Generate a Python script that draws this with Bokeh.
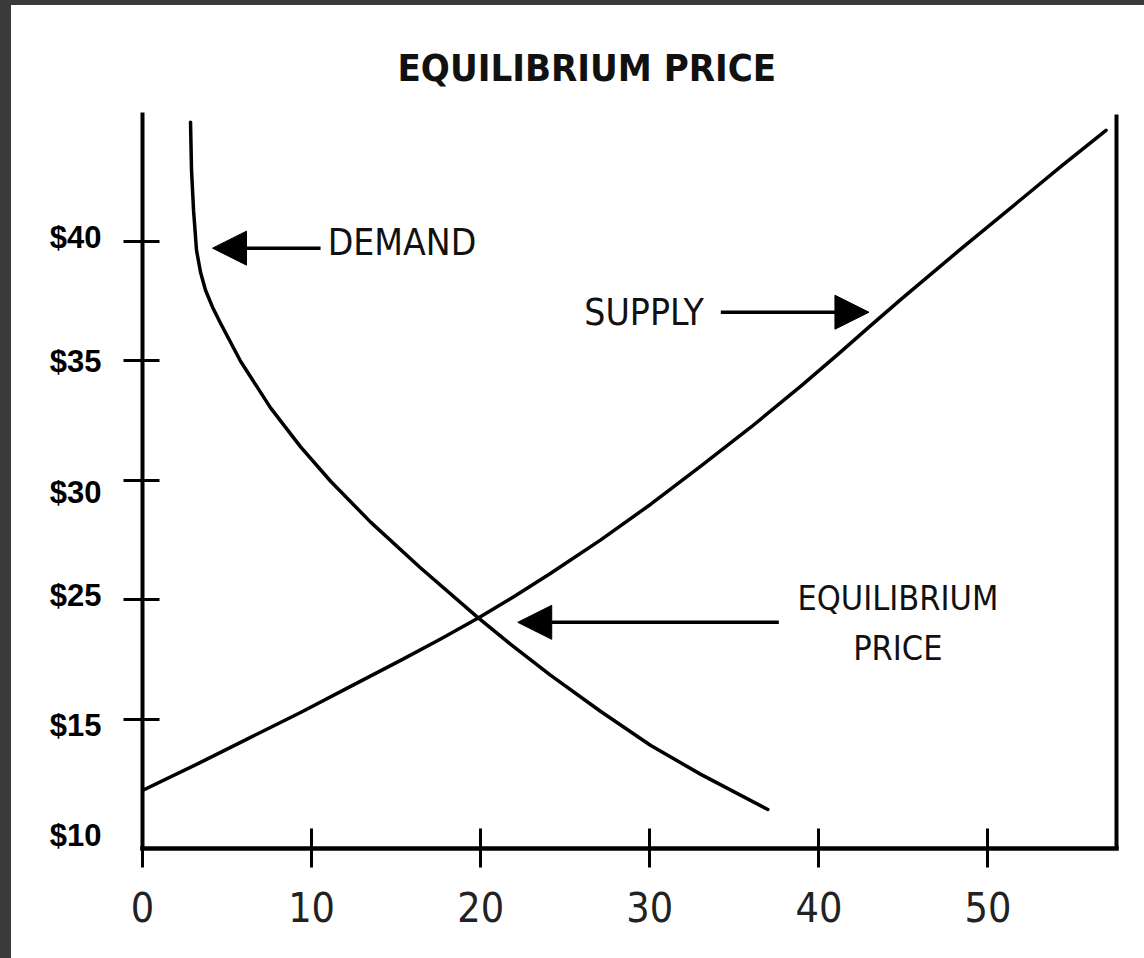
from bokeh.plotting import figure
from bokeh.models import Range1d, LinearAxis, FixedTicker, Arrow, NormalHead, ColumnDataSource, Spacer
from bokeh.layouts import row, column
from bokeh.core.properties import value
from bokeh.embed import file_html
from bokeh.resources import INLINE

# ---------------- data ----------------
quantity_ticks = [0, 10, 20, 30, 40, 50]
price_tick_values = [20, 25, 30, 35, 40]
price_label_values = [15.15, 19.75, 25.2, 29.5, 34.95, 40.15]
price_labels = ["$10", "$15", "$25", "$30", "$35", "$40"]

demand_q = [2.840, 2.899, 3.018, 3.195, 3.432, 3.728, 4.142, 4.615, 5.799, 7.574, 9.349,
            11.124, 13.491, 16.450, 19.822, 21.775, 24.142, 27.101, 30.059, 33.018, 36.982]
demand_p = [44.98, 42.97, 41.30, 39.62, 38.70, 37.95, 37.24, 36.57, 34.98, 33.03, 31.40,
            29.96, 28.25, 26.33, 24.27, 23.14, 21.84, 20.33, 18.91, 17.70, 16.23]

supply_q = [0.0, 3.432, 6.391, 9.349, 12.308, 15.266, 17.633, 19.882, 22.071, 24.142, 27.101,
            30.059, 33.018, 35.976, 38.935, 41.124, 43.077, 44.852, 48.402, 52.130, 54.320, 56.982]
supply_p = [17.03, 18.20, 19.25, 20.29, 21.38, 22.47, 23.36, 24.25, 25.18, 26.11, 27.51,
            29.00, 30.59, 32.22, 33.94, 35.27, 36.48, 37.57, 39.68, 41.85, 43.13, 44.64]

label_text = ["DEMAND", "SUPPLY", "EQUILIBRIUM", "PRICE"]
label_x = [10.95, 33.2, 44.67, 44.67]
label_y = [39.96, 37.03, 25.06, 22.97]
label_align = ["left", "right", "center", "center"]
label_size = ["37px", "37px", "34px", "34px"]

arrow_x0 = [10.53, 34.2, 37.63]
arrow_x1 = [4.14, 42.96, 22.19]
arrow_y = [39.71, 37.03, 24.06]

NARROW = "DejaVu Sans Condensed, Roboto Condensed, Liberation Sans"
INK = "#111111"
DARK = {"background-color": "#3a3a3a"}

p = figure(width=1133, height=953, output_backend="svg", toolbar_location=None,
           x_range=Range1d(0, 57.6), y_range=Range1d(14.6, 45.3),
           min_border_left=131, min_border_right=28, min_border_top=109, min_border_bottom=110,
           background_fill_color="white", border_fill_color="white")
p.outline_line_color = None
p.xgrid.visible = False
p.ygrid.visible = False

p.title.text = "EQUILIBRIUM PRICE"
p.title.align = "left"
p.title.offset = 255
p.title.standoff = 50
p.title.text_font = NARROW
p.title.text_font_style = "bold"
p.title.text_font_size = "38px"
p.title.text_color = INK

# x axis
xa = p.xaxis[0]
xa.ticker = FixedTicker(ticks=quantity_ticks)
xa.axis_line_width = 4.5
xa.axis_line_color = "black"
xa.axis_line_cap = "square"
xa.major_tick_in = 20
xa.major_tick_out = 19
xa.major_tick_line_width = 3
xa.major_tick_line_color = "black"
xa.minor_tick_line_color = None
xa.major_label_text_font = NARROW
xa.major_label_text_font_size = "41px"
xa.major_label_text_color = "#222222"
xa.major_label_standoff = 24

# y axis (tick marks only)
ya = p.yaxis[0]
ya.ticker = FixedTicker(ticks=price_tick_values)
ya.major_label_overrides = {v: "" for v in price_tick_values}
ya.axis_line_width = 4
ya.axis_line_color = "black"
ya.axis_line_cap = "square"
ya.major_tick_in = 17
ya.major_tick_out = 19
ya.major_tick_line_width = 3
ya.major_tick_line_color = "black"
ya.minor_tick_line_color = None
ya.major_label_standoff = 0

# y labels axis
yl = LinearAxis(ticker=FixedTicker(ticks=price_label_values),
                major_label_overrides={v: t for v, t in zip(price_label_values, price_labels)})
yl.axis_line_color = None
yl.major_tick_line_color = None
yl.minor_tick_line_color = None
yl.major_tick_in = 0
yl.major_tick_out = 0
yl.major_label_text_font = "Liberation Sans"
yl.major_label_text_font_style = "bold"
yl.major_label_text_font_size = "31px"
yl.major_label_text_color = "black"
yl.major_label_standoff = 22
p.add_layout(yl, "left")

# right border line
ra = LinearAxis(ticker=FixedTicker(ticks=[]))
ra.axis_line_width = 4
ra.axis_line_color = "black"
ra.major_tick_line_color = None
ra.minor_tick_line_color = None
p.add_layout(ra, "right")

# curves
p.line(demand_q, demand_p, line_color="black", line_width=3.5, line_join="round", line_cap="round")
p.line(supply_q, supply_p, line_color="black", line_width=3.5, line_join="round", line_cap="round")

# labels
src = ColumnDataSource(dict(x=label_x, y=label_y, text=label_text, align=label_align, size=label_size))
p.text(x="x", y="y", text="text", source=src, text_align="align", text_font_size="size",
       text_baseline="middle", text_font=value(NARROW), text_color=INK)

# arrows
for x0, x1, y in zip(arrow_x0, arrow_x1, arrow_y):
    p.add_layout(Arrow(x_start=x0, y_start=y, x_end=x1, y_end=y, line_width=3.5, line_color="black",
                       end=NormalHead(size=34, fill_color="black", line_color="black", line_width=1)))

root = row(Spacer(width=11, height=958, styles=DARK),
           column(Spacer(width=1133, height=5, styles=DARK), p, spacing=0), spacing=0)

open("out.html", "w").write(file_html(root, INLINE))
